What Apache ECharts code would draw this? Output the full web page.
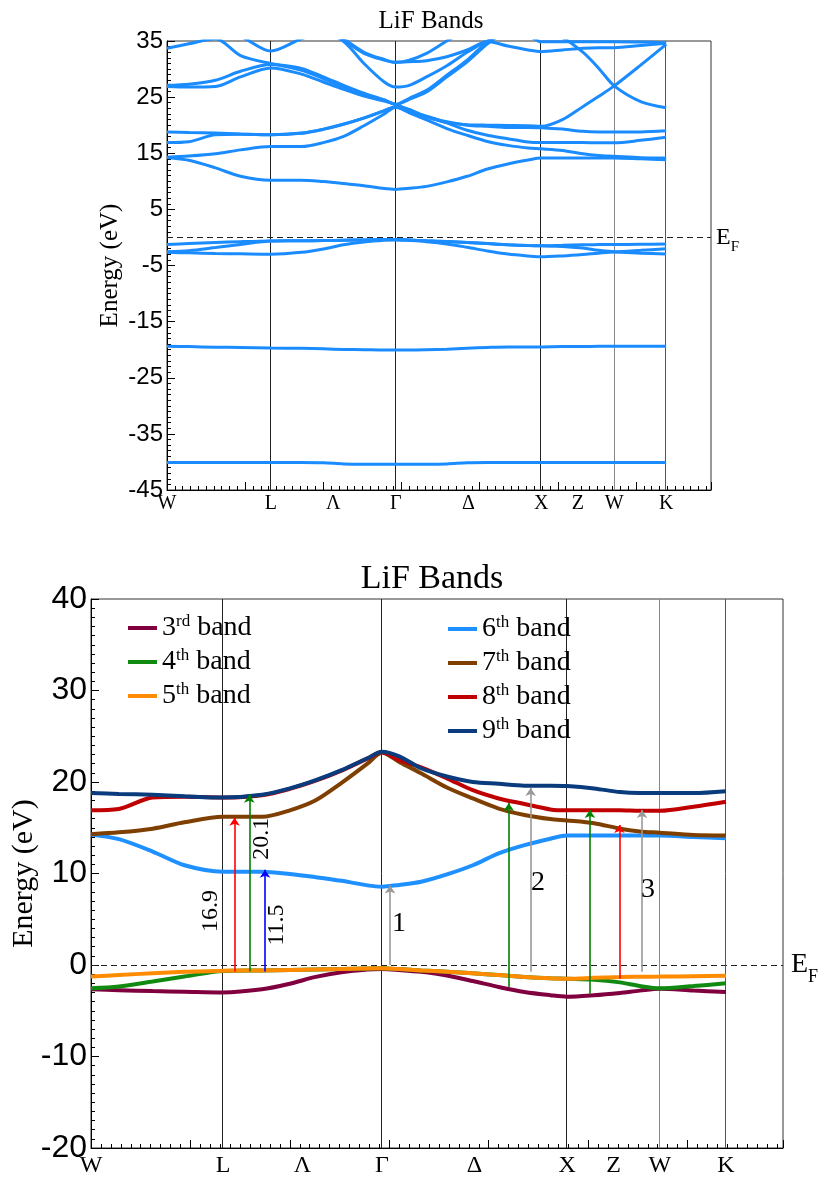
<!DOCTYPE html>
<html><head><meta charset="utf-8">
<script src="https://cdn.jsdelivr.net/npm/echarts@6/dist/echarts.min.js"></script>
<style>html,body{margin:0;padding:0;background:#fff}#c{width:823px;height:1179px}</style>
</head><body><div id="c"></div>
<script>
// ---------- DATA ----------
const kPath = [0, 0.14, 0.31, 0.47, 0.664, 0.86, 1.0, 1.13, 1.26, 1.39, 1.463, 1.55, 1.66, 1.79, 1.92, 2.05, 2.18, 2.31, 2.394, 2.53, 2.66, 2.76, 2.861, 3.03, 3.193];
const kPointPos = [0, 0.664, 1.063, 1.463, 1.928, 2.394, 2.628, 2.861, 3.193];
const kPointNames = ['W', 'L', 'Λ', 'Γ', 'Δ', 'X', 'Z', 'W', 'K'];
const kLinePos = [0.664, 1.463, 2.394, 2.861, 3.193];

const band1 = [-40.1, -40.1, -40.1, -40.1, -40.1, -40.1, -40.15, -40.35, -40.4, -40.4, -40.4, -40.4, -40.4, -40.35, -40.15, -40.1, -40.1, -40.1, -40.1, -40.1, -40.1, -40.1, -40.1, -40.1, -40.1];
const band2 = [-19.4, -19.45, -19.55, -19.6, -19.7, -19.75, -19.85, -19.95, -20.0, -20.05, -20.05, -20.05, -20.0, -19.9, -19.75, -19.6, -19.5, -19.5, -19.5, -19.45, -19.45, -19.4, -19.4, -19.4, -19.4];
const band3 = [-2.66, -2.75, -2.85, -2.92, -3.0, -2.66, -2.05, -1.3, -0.8, -0.5, -0.44, -0.55, -0.75, -1.15, -1.75, -2.4, -2.95, -3.3, -3.46, -3.3, -3.05, -2.8, -2.6, -2.8, -2.95];
const band4 = [-2.55, -2.35, -1.8, -1.26, -0.65, -0.6, -0.55, -0.5, -0.45, -0.38, -0.36, -0.45, -0.6, -0.73, -0.9, -1.1, -1.3, -1.45, -1.5, -1.6, -1.9, -2.3, -2.55, -2.3, -2.0];
const band5 = [-1.27, -1.1, -0.9, -0.75, -0.62, -0.6, -0.55, -0.5, -0.45, -0.38, -0.36, -0.45, -0.6, -0.73, -0.9, -1.1, -1.3, -1.45, -1.5, -1.4, -1.3, -1.28, -1.27, -1.22, -1.17];
const band6 = [14.25, 13.75, 12.4, 10.9, 10.2, 10.2, 9.95, 9.6, 9.2, 8.7, 8.56, 8.75, 9.1, 9.9, 10.9, 12.2, 13.1, 13.8, 14.15, 14.15, 14.15, 14.15, 14.15, 14.0, 13.85];
const band7 = [14.3, 14.5, 14.9, 15.6, 16.2, 16.2, 16.9, 18.0, 19.9, 22.0, 23.2, 22.2, 20.95, 19.4, 18.2, 17.1, 16.4, 15.95, 15.8, 15.5, 14.9, 14.6, 14.46, 14.2, 14.15];
const band8 = [16.9, 17.05, 18.3, 18.4, 18.3, 18.55, 19.25, 20.15, 21.25, 22.55, 23.25, 22.4, 21.6, 20.4, 19.1, 18.2, 17.6, 17.0, 16.9, 16.9, 16.9, 16.85, 16.85, 17.3, 17.85];
const band9 = [18.8, 18.7, 18.6, 18.45, 18.3, 18.6, 19.3, 20.2, 21.3, 22.6, 23.3, 22.8, 21.5, 20.6, 20.0, 19.8, 19.6, 19.6, 19.56, 19.3, 18.9, 18.8, 18.8, 18.8, 19.0];
const band10 = [26.9, 26.8, 26.9, 28.6, 30.2, 29.1, 27.7, 26.4, 25.2, 24.3, 23.7, 22.7, 21.5, 20.5, 20.1, 20.0, 19.95, 19.9, 19.8, 21.0, 23.3, 25.1, 27.0, 30.7, 34.4];
const band11 = [27.1, 27.3, 28.0, 29.6, 30.8, 29.8, 28.3, 26.8, 25.5, 24.5, 23.7, 24.8, 26.2, 28.9, 31.6, 34.9, 37.5, 39, 40, 40, 40, 40, 40, 40, 40];
const band12 = [33.7, 34.5, 35.4, 32.4, 31.0, 30.1, 28.6, 27.1, 25.7, 24.5, 23.7, 24.6, 25.9, 28.6, 31.3, 34.5, 37, 39, 40, 40, 40, 40, 40, 40, 40];
const band13 = [38, 37.5, 36.5, 35.8, 33.2, 35.4, 36.5, 34.9, 31.0, 27.7, 26.8, 27.1, 28.6, 30.6, 33.0, 35.0, 36.5, 37.5, 38, 38, 38, 38, 38, 38, 38];
const band14 = [40, 40, 40, 40, 40, 40, 38, 35.2, 32.8, 31.6, 31.2, 31.3, 31.5, 32.2, 33.4, 34.9, 34.1, 33.4, 33.1, 33.4, 33.7, 33.8, 33.8, 34.2, 34.6];
const band15 = [40, 40, 40, 40, 40, 40, 38, 35.4, 33.0, 31.7, 31.2, 31.6, 32.8, 35.0, 37, 38, 38, 38, 37, 35.6, 33.0, 30.2, 27.0, 24.2, 23.1];
const band16 = [40, 40, 40, 40, 40, 40, 40, 40, 40, 40, 40, 40, 40, 39, 38, 37, 36.5, 36, 34.85, 34.85, 34.85, 34.85, 34.85, 34.8, 34.7];

const legendNames = ['3rd band', '4th band', '5th band', '6th band', '7th band', '8th band', '9th band'];

// transition arrows (x position, start energy, end energy)
const arrowX = [0.722, 0.796, 0.875, 1.504, 2.101, 2.211, 2.509, 2.657, 2.771];
const arrowFrom = [-0.7, -0.7, -0.7, 0, -2.4, -0.75, -3.15, -1.5, -0.75];
const arrowTo = [16.1, 18.6, 10.4, 8.7, 17.7, 19.35, 16.95, 15.3, 16.95];

// annotation texts
const annotText = ['16.9', '20.1', '11.5', '1', '2', '3'];
const annotX = [0.603, 0.860, 0.935, 1.549, 2.248, 2.801];
const annotY = [5.9, 13.8, 4.37, 4.5, 8.96, 8.2];

// ---------- STYLE ----------
const SERIF = 'Liberation Serif';
const SANS = 'Liberation Sans';
const topBlue = '#1a8cff';
const bottomColors = ['#80003f', '#118a11', '#ff8c00', '#1e90ff', '#7f3f00', '#c00000', '#0a3c7d'];
const arrowColors = ['#ff0000', '#008000', '#0000ff', '#999999', '#008000', '#999999', '#008000', '#ff0000', '#999999'];
const annotRotate = [90, 90, 90, 0, 0, 0];
const annotSize = [24, 24, 24, 28, 28, 28];
const kLineColors = ['#222', '#222', '#222', '#888', '#555'];

const chart = echarts.init(document.getElementById('c'), null, {renderer: 'canvas'});

function kLabel(v) {
  const i = kPointPos.findIndex(p => Math.abs(p - v) < 1e-6);
  return i >= 0 ? kPointNames[i] : '';
}

function xAxisCfg(gi, fs, margin) {
  return {
    type: 'value', gridIndex: gi, min: 0, max: 3.48, interval: 0.5,
    axisLine: {show: true, onZero: false, lineStyle: {color: '#000', width: 1}},
    axisTick: {show: true, inside: true, length: 8, lineStyle: {color: '#000'}},
    minorTick: {show: true, splitNumber: 10, length: 4, lineStyle: {color: '#000'}},
    axisLabel: {customValues: kPointPos, formatter: kLabel, fontFamily: SERIF, fontSize: fs, color: '#000', margin: margin},
    splitLine: {show: false}
  };
}
function yAxisCfg(gi, min, max, fs, nameFs, nameGap) {
  return {
    type: 'value', gridIndex: gi, min: min, max: max, interval: 10,
    axisLine: {show: true, lineStyle: {color: '#000', width: 1}},
    axisTick: {show: true, inside: true, length: 8, lineStyle: {color: '#000'}},
    minorTick: {show: true, splitNumber: 10, length: 4, lineStyle: {color: '#000'}},
    axisLabel: {fontFamily: SANS, fontSize: fs, color: '#000', margin: 4, padding: [8, 0, 0, 0]},
    splitLine: {show: false},
    name: 'Energy (eV)', nameLocation: 'middle', nameRotate: 90, nameGap: nameGap,
    nameMoveOverlap: false,
    nameTextStyle: {fontFamily: SERIF, fontSize: nameFs, color: '#000'}
  };
}
function lineSeries(name, vals, color, width, gi, z) {
  return {
    type: 'line', name: name, xAxisIndex: gi, yAxisIndex: gi,
    data: kPath.map((k, i) => [k, vals[i]]),
    showSymbol: false, symbol: 'none', smooth: 0.3, clip: true,
    lineStyle: {color: color, width: width}, itemStyle: {color: color},
    z: z, silent: true, emphasis: {disabled: true}
  };
}
function refMarkLine(eSize, fSize, lh, dist) {
  const data = [{
    yAxis: 0,
    lineStyle: {type: [6, 4], color: '#222', width: 1},
    label: {
      show: true, position: 'end', distance: dist, formatter: '{e|E}{f|F}',
      rich: {
        e: {fontFamily: SERIF, fontSize: eSize, lineHeight: lh, color: '#000'},
        f: {fontFamily: SERIF, fontSize: fSize, lineHeight: fSize, verticalAlign: 'bottom', color: '#000'}
      }
    }
  }];
  kLinePos.forEach((p, i) => data.push({xAxis: p, lineStyle: {type: 'solid', color: kLineColors[i], width: 1}, label: {show: false}}));
  return {silent: true, symbol: 'none', z: 1, animation: false, data: data};
}

const series = [];
// top chart: all bands
const topBands = [band1, band2, band3, band4, band5, band6, band7, band8, band9, band10, band11, band12, band13, band14, band15, band16];
topBands.forEach((b, i) => {
  const s = lineSeries('top band ' + (i + 1), b, topBlue, 3, 0, 3);
  if (i === 0) s.markLine = refMarkLine(24, 15, 34, 5);
  series.push(s);
});
// bottom chart: bands 3-9
const bottomBands = [band3, band4, band5, band6, band7, band8, band9];
bottomBands.forEach((b, i) => {
  const s = lineSeries(legendNames[i], b, bottomColors[i], 4, 1, 3);
  if (i === 0) s.markLine = refMarkLine(28, 18, 42, 8);
  series.push(s);
});
// annotations + arrows
series.push({
  type: 'scatter', name: 'annotations', xAxisIndex: 1, yAxisIndex: 1,
  symbolSize: 0, silent: true, z: 10,
  itemStyle: {opacity: 1, color: '#000'},
  data: annotText.map((t, i) => ({
    name: t, value: [annotX[i], annotY[i]],
    label: {rotate: annotRotate[i], fontSize: annotSize[i]}
  })),
  label: {show: true, position: 'inside', formatter: '{b}', fontFamily: SERIF, color: '#000', opacity: 1, textBorderWidth: 0},
  markLine: {
    silent: true, symbol: ['none', 'arrow'], symbolSize: 8, z: 10, animation: false,
    label: {show: false},
    data: arrowX.map((x, i) => [
      {coord: [x, arrowFrom[i]], lineStyle: {color: arrowColors[i], width: 1.6, type: 'solid'}, itemStyle: {color: arrowColors[i]}},
      {coord: [x, arrowTo[i]]}
    ])
  }
});

const legendRich = {
  n: {fontFamily: SERIF, fontSize: 28, lineHeight: 30, color: '#000'},
  s: {fontFamily: SERIF, fontSize: 17, lineHeight: 17, verticalAlign: 'top', color: '#000'}
};
function legendFmt(name) {
  const m = name.match(/^(\d)(\w+) (.*)$/);
  return m ? '{n|' + m[1] + '}{s|' + m[2] + '}{n| ' + m[3] + '}' : name;
}
function legendCfg(names, left, top) {
  return {
    data: names, left: left, top: top, orient: 'vertical', itemGap: 5,
    itemWidth: 29, itemHeight: 4, icon: 'rect', selectedMode: false,
    formatter: legendFmt, textStyle: {rich: legendRich, color: '#000'}
  };
}

chart.setOption({
  animation: false,
  backgroundColor: '#fff',
  title: [
    {text: 'LiF Bands', left: 426, textAlign: 'center', top: 4,
     textStyle: {fontFamily: SERIF, fontSize: 25, fontWeight: 'normal', color: '#000'}},
    {text: 'LiF Bands', left: 427, textAlign: 'center', top: 557,
     textStyle: {fontFamily: SERIF, fontSize: 34, fontWeight: 'normal', color: '#000'}}
  ],
  legend: [
    legendCfg(legendNames.slice(0, 3), 123, 608),
    legendCfg(legendNames.slice(3), 443, 609)
  ],
  grid: [
    {left: 167, top: 41, width: 544, height: 449, show: true, borderColor: '#333', borderWidth: 1, backgroundColor: 'transparent', containLabel: false, outerBoundsMode: 'none'},
    {left: 91, top: 599, width: 692, height: 549, show: true, borderColor: '#333', borderWidth: 1, backgroundColor: 'transparent', containLabel: false, outerBoundsMode: 'none'}
  ],
  xAxis: [xAxisCfg(0, 20, 4), xAxisCfg(1, 24, 6)],
  yAxis: [yAxisCfg(0, -45, 35, 24, 25, 44), yAxisCfg(1, -20, 40, 32, 30, 52)],
  series: series
});
</script>
</body></html>
